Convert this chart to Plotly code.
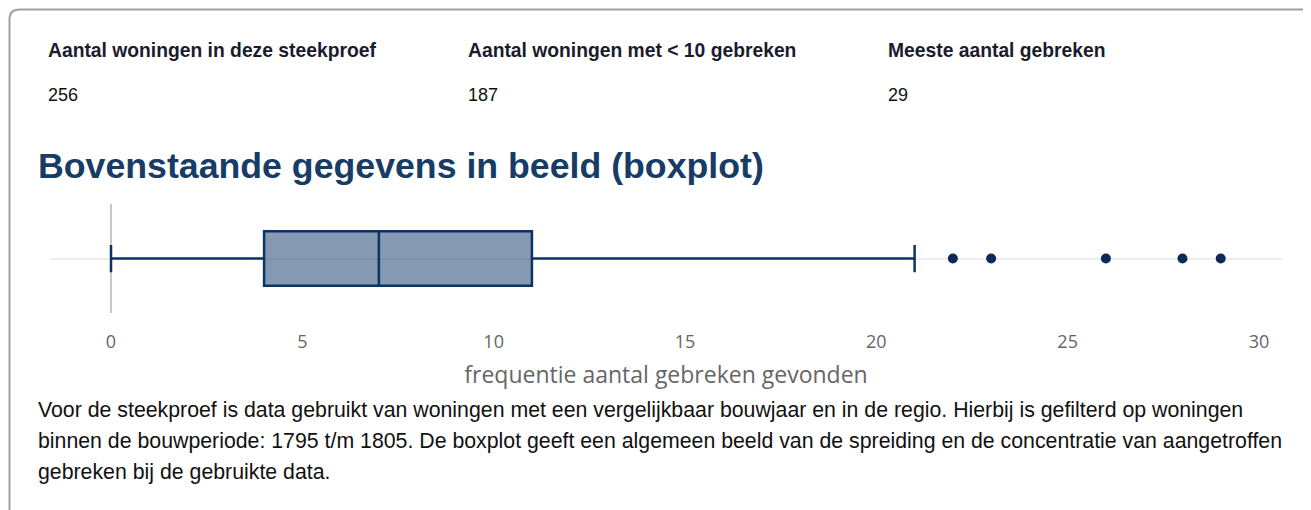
import plotly.graph_objects as go

# page offset (body margin of the html page)
OFF = 8
W, H = 1311 - OFF, 510 - OFF

# ---- data ----
stat_labels = ["Aantal woningen in deze steekproef", "Aantal woningen met < 10 gebreken", "Meeste aantal gebreken"]
stat_values = ["256", "187", "29"]
q1 = [4]
median = [7]
q3 = [11]
lowerfence = [0]
upperfence = [21]
outliers = [22, 23, 26, 28, 29]
tick_vals = [0, 5, 10, 15, 20, 25, 30]
heading = "Bovenstaande gegevens in beeld (boxplot)"
axis_title = "frequentie aantal gebreken gevonden"
paragraph_lines = [
    "Voor de steekproef is data gebruikt van woningen met een vergelijkbaar bouwjaar en in de regio. Hierbij is gefilterd op woningen",
    "binnen de bouwperiode: 1795 t/m 1805. De boxplot geeft een algemeen beeld van de spreiding en de concentratie van aangetroffen",
    "gebreken bij de gebruikte data.",
]


def px(x):
    return (x - OFF) / W


def py(y):
    return 1 - (y - OFF) / H


navy = "#0b3366"

fig = go.Figure()
fig.add_trace(go.Box(
    q1=q1, median=median, q3=q3, lowerfence=lowerfence, upperfence=upperfence,
    y=[0], orientation="h", width=0.5, whiskerwidth=0.5,
    fillcolor="rgba(11,51,102,0.5)", line=dict(color=navy, width=2.5),
    boxpoints=False, hoverinfo="skip", showlegend=False,
))
fig.add_trace(go.Scatter(
    x=outliers, y=[0] * len(outliers), mode="markers",
    marker=dict(color="#0a2b59", size=10), showlegend=False, hoverinfo="skip",
))

# plot area in page pixels
L, R, T, B = 50, 1282, 204, 313
x0_px, x30_px = 111, 1259
ppu = (x30_px - x0_px) / 30
xr = [-(x0_px - L) / ppu, 30 + (R - x30_px) / ppu]

fig.update_layout(
    width=W, height=H,
    margin=dict(l=0, r=0, t=0, b=0),
    paper_bgcolor="white", plot_bgcolor="white",
    font=dict(family="Open Sans", color="#666"),
    xaxis=dict(
        domain=[px(L), px(R)], range=xr, tickvals=tick_vals,
        showgrid=False, zeroline=True, zerolinecolor="#c8c8c8", zerolinewidth=1.5,
        ticks="outside", ticklen=12, tickcolor="rgba(0,0,0,0)",
        tickfont=dict(family="Open Sans", size=18, color="#666"),
        title=dict(text=axis_title, font=dict(family="Open Sans", size=23, color="#666"), standoff=15),
        automargin=False, showline=False,
    ),
    yaxis=dict(
        domain=[py(B), py(T)], range=[-0.5, 0.5], tickvals=[0], showticklabels=False,
        showgrid=True, gridcolor="#eeeeee", gridwidth=2, zeroline=False, automargin=False,
    ),
)

# rounded border (card)
r = 10
bx, by = 9.5, 9.5
path = (f"M {px(bx)},{py(H + OFF + 5)} L {px(bx)},{py(by + r)} "
        f"Q {px(bx)},{py(by)} {px(bx + r)},{py(by)} L {px(W + OFF + 5)},{py(by)}")
fig.add_shape(type="path", path=path, xref="paper", yref="paper",
              line=dict(color="#a0a0a0", width=2))

ann = []
for i, (lab, val) in enumerate(zip(stat_labels, stat_values)):
    x = 46 + i * 420
    ann.append(dict(x=px(x), y=py(50), text=f"<b>{lab}</b>", showarrow=False,
                    xanchor="left", yanchor="middle", xref="paper", yref="paper",
                    font=dict(family="Liberation Sans", size=19.3, color="#1a1c2e")))
    ann.append(dict(x=px(x), y=py(95), text=val, showarrow=False,
                    xanchor="left", yanchor="middle", xref="paper", yref="paper",
                    font=dict(family="Liberation Sans", size=18, color="#111")))
ann.append(dict(x=px(36), y=py(166), text=f"<b>{heading}</b>", showarrow=False,
                xanchor="left", yanchor="middle", xref="paper", yref="paper",
                font=dict(family="Liberation Sans", size=35.7, color="#173c65")))
for j, line in enumerate(paragraph_lines):
    ann.append(dict(x=px(36), y=py(410 + 31 * j), text=line, showarrow=False,
                    xanchor="left", yanchor="middle", xref="paper", yref="paper",
                    font=dict(family="Liberation Sans", size=21.3, color="#111")))
fig.update_layout(annotations=ann)

fig.write_html("out.html")
